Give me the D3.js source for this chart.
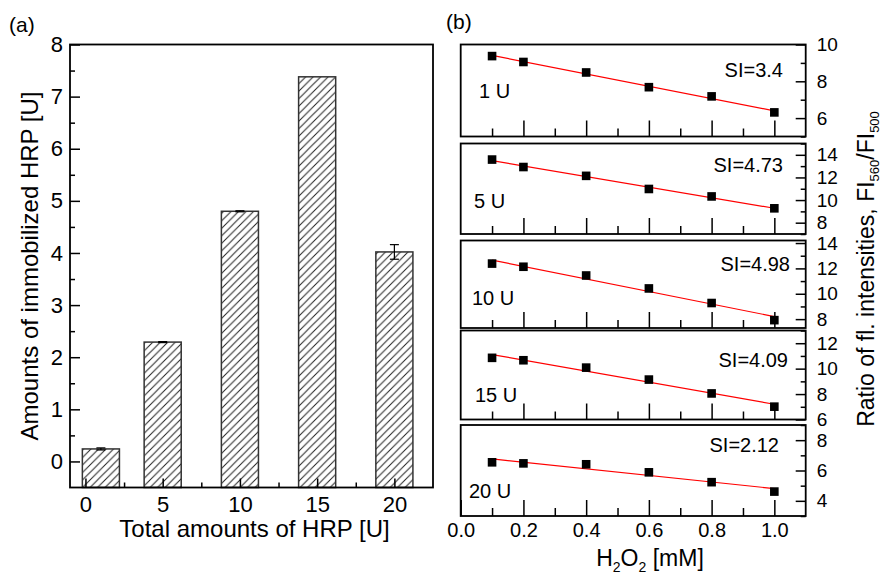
<!DOCTYPE html>
<html>
<head>
<meta charset="utf-8">
<script src="https://cdn.jsdelivr.net/npm/d3@7"></script>
<style>
  body { margin: 0; background: #fff; }
  text { font-family: "Liberation Sans", Arial, sans-serif; fill: #000; }
</style>
</head>
<body>
<div id="vis"></div>
<script>
// ---- data (a): immobilized HRP vs total HRP
const totalUnits = [1, 5, 10, 15, 20];
const immobilized = [0.24, 2.29, 4.80, 7.38, 4.02];
const immobilizedErr = [0.02, 0.01, 0.01, 0, 0.14];
const unitTicks = [0, 5, 10, 15, 20];

// ---- data (b): ratio of fluorescence intensities vs H2O2
const h2o2 = [0.1, 0.2, 0.4, 0.6, 0.8, 1.0];
const h2o2Ticks = [0, 0.2, 0.4, 0.6, 0.8, 1.0];
const panelNames = ["1 U", "5 U", "10 U", "15 U", "20 U"];
const siLabels = ["SI=3.4", "SI=4.73", "SI=4.98", "SI=4.09", "SI=2.12"];
const ratio1 = [9.37, 9.05, 8.48, 7.68, 7.18, 6.31];
const ratio5 = [13.58, 12.92, 12.14, 10.98, 10.32, 9.27];
const ratio10 = [12.38, 12.13, 11.44, 10.42, 9.27, 7.92];
const ratio15 = [10.85, 10.66, 10.08, 9.14, 8.05, 7.01];
const ratio20 = [6.54, 6.47, 6.41, 5.88, 5.23, 4.61];
const ratioDomains = [[5, 10], [7, 15], [7.3, 14.2], [6, 13], [3, 9]];

const W = 883, H = 576;
const svg = d3.select("#vis").append("svg")
    .attr("width", W)
    .attr("height", H);

// hatch fill for the bars
svg.append("defs").append("pattern")
    .attr("id", "hatch")
    .attr("patternUnits", "userSpaceOnUse")
    .attr("width", 7.5)
    .attr("height", 7.5)
    .append("path")
    .attr("d", "M-2,2 l4,-4 M0,7.5 l7.5,-7.5 M5.5,9.5 l4,-4")
    .attr("stroke", "#222")
    .attr("stroke-width", 1);

function styleAxis(g, size) {
    g.select(".domain").remove();
    g.attr("font-size", size);
    g.selectAll(".tick line").attr("stroke", "#000").attr("stroke-width", 1.5);
}

// ================= panel (a) =================
const A = { left: 70, right: 433, top: 44.5, bottom: 487.5 };
const xA = d3.scaleLinear().domain([-1, 22.5]).range([A.left, A.right]);
const yA = d3.scaleLinear().domain([-0.5, 8]).range([A.bottom, A.top]);
const barW = 2.4;

const gA = svg.append("g");

gA.selectAll("rect.bar")
    .data(totalUnits)
    .join("rect")
    .attr("class", "bar")
    .attr("x", d => xA(d - barW / 2))
    .attr("width", d => xA(d + barW / 2) - xA(d - barW / 2))
    .attr("y", (d, i) => yA(immobilized[i]))
    .attr("height", (d, i) => A.bottom - yA(immobilized[i]))
    .attr("fill", "url(#hatch)")
    .attr("stroke", "#333")
    .attr("stroke-width", 1.5);

// error bars
const err = gA.append("g").attr("stroke", "#000").attr("stroke-width", 1.2);
totalUnits.forEach((u, i) => {
    if (!immobilizedErr[i]) return;
    const lo = yA(immobilized[i] - immobilizedErr[i]), hi = yA(immobilized[i] + immobilizedErr[i]);
    err.append("line").attr("x1", xA(u)).attr("x2", xA(u)).attr("y1", lo).attr("y2", hi);
    err.append("line").attr("x1", xA(u) - 4.5).attr("x2", xA(u) + 4.5).attr("y1", lo).attr("y2", lo);
    err.append("line").attr("x1", xA(u) - 4.5).attr("x2", xA(u) + 4.5).attr("y1", hi).attr("y2", hi);
});

// axes (ticks inward)
gA.append("g")
    .attr("transform", `translate(${A.left},0)`)
    .call(d3.axisLeft(yA).tickValues(d3.range(0, 8.5, 1)).tickSize(-10).tickPadding(7).tickFormat(d3.format("d")))
    .call(g => styleAxis(g, 22));
gA.append("g")
    .attr("transform", `translate(${A.left},0)`)
    .call(d3.axisLeft(yA).tickValues(d3.range(0.5, 8, 1)).tickSize(-5).tickFormat(""))
    .call(g => styleAxis(g, 22));
gA.append("g")
    .attr("transform", `translate(0,${A.bottom})`)
    .call(d3.axisBottom(xA).tickValues(unitTicks).tickSize(-9).tickPadding(9).tickFormat(d3.format("d")))
    .call(g => styleAxis(g, 22));
gA.append("g")
    .attr("transform", `translate(0,${A.bottom})`)
    .call(d3.axisBottom(xA).tickValues([2.5, 7.5, 12.5, 17.5]).tickSize(-5).tickFormat(""))
    .call(g => styleAxis(g, 22));

gA.append("rect")
    .attr("x", A.left).attr("y", A.top)
    .attr("width", A.right - A.left).attr("height", A.bottom - A.top)
    .attr("fill", "none").attr("stroke", "#000").attr("stroke-width", 1.8);

gA.append("text")
    .attr("x", (A.left + A.right) / 2 + 3)
    .attr("y", 537)
    .attr("text-anchor", "middle")
    .attr("font-size", 24)
    .text("Total amounts of HRP [U]");

gA.append("text")
    .attr("transform", "translate(37.5,266) rotate(-90)")
    .attr("text-anchor", "middle")
    .attr("font-size", 24)
    .text("Amounts of immobilized HRP [U]");

svg.append("text").attr("x", 9).attr("y", 32).attr("font-size", 21).text("(a)");
svg.append("text").attr("x", 446).attr("y", 29).attr("font-size", 21).text("(b)");

// ================= panel (b) =================
const B = { left: 460.7, right: 805.7 };
const panelTops = [44.5, 143.5, 240.5, 330.5, 425];
const panelBottoms = [136.5, 234, 328, 419.5, 516];
const siPos = [[783, 32.5], [783, 28.5], [790, 30.5], [788, 36.5], [779, 27]];
const namePos = [[479, 53.5], [474, 64.5], [472, 64.5], [475, 71.5], [469, 73]];
const xB = d3.scaleLinear().domain([0, 1.1]).range([B.left, B.right]);
const ratios = [ratio1, ratio5, ratio10, ratio15, ratio20];

function fitLine(xs, ys) {
    const mx = d3.mean(xs), my = d3.mean(ys);
    const sxy = d3.sum(xs, (x, i) => (x - mx) * (ys[i] - my));
    const sxx = d3.sum(xs, x => (x - mx) ** 2);
    const b = sxy / sxx;
    return x => my + b * (x - mx);
}

ratios.forEach((vals, i) => {
    const top = panelTops[i], bottom = panelBottoms[i];
    const dom = ratioDomains[i];
    const y = d3.scaleLinear().domain(dom).range([bottom, top]);
    const g = svg.append("g");

    // bottom ticks
    const last = i === ratios.length - 1;
    g.append("g")
        .attr("transform", `translate(0,${bottom})`)
        .call(d3.axisBottom(xB).tickValues(last ? h2o2Ticks : h2o2Ticks.slice(1)).tickSize(-16).tickPadding(7)
            .tickFormat(last ? d3.format(".1f") : ""))
        .call(a => styleAxis(a, 20));
    g.append("g")
        .attr("transform", `translate(0,${bottom})`)
        .call(d3.axisBottom(xB).tickValues([0.1, 0.3, 0.5, 0.7, 0.9]).tickSize(-8).tickFormat(""))
        .call(a => styleAxis(a, 20));

    // right ticks
    const vals2 = d3.range(Math.ceil(dom[0]), Math.floor(dom[1]) + 1);
    g.append("g")
        .attr("transform", `translate(${B.right},0)`)
        .call(d3.axisRight(y).tickValues(vals2.filter(v => v % 2 === 0)).tickSize(-10).tickPadding(11).tickFormat(d3.format("d")))
        .call(a => styleAxis(a, 19));
    g.append("g")
        .attr("transform", `translate(${B.right},0)`)
        .call(d3.axisRight(y).tickValues(vals2.filter(v => v % 2 !== 0)).tickSize(-5).tickFormat(""))
        .call(a => styleAxis(a, 19));

    // fit line
    const f = fitLine(h2o2, vals);
    g.append("line")
        .attr("x1", xB(h2o2[0])).attr("y1", y(f(h2o2[0])))
        .attr("x2", xB(h2o2[h2o2.length - 1])).attr("y2", y(f(h2o2[h2o2.length - 1])))
        .attr("stroke", "#f00").attr("stroke-width", 1.2);

    // markers
    g.selectAll("rect.pt")
        .data(vals)
        .join("rect")
        .attr("class", "pt")
        .attr("x", (d, j) => xB(h2o2[j]) - 4.3)
        .attr("y", d => y(d) - 4.3)
        .attr("width", 8.6)
        .attr("height", 8.6)
        .attr("fill", "#000");

    g.append("rect")
        .attr("x", B.left).attr("y", top)
        .attr("width", B.right - B.left).attr("height", bottom - top)
        .attr("fill", "none").attr("stroke", "#000").attr("stroke-width", 1.8);

    g.append("text")
        .attr("x", siPos[i][0]).attr("y", top + siPos[i][1])
        .attr("text-anchor", "end")
        .attr("font-size", 20)
        .text(siLabels[i]);
    g.append("text")
        .attr("x", namePos[i][0]).attr("y", top + namePos[i][1])
        .attr("font-size", 20)
        .text(panelNames[i]);
});

// x title (b)
const xt = svg.append("text")
    .attr("x", 650).attr("y", 566)
    .attr("text-anchor", "middle")
    .attr("font-size", 23);
xt.append("tspan").text("H");
xt.append("tspan").attr("dy", 6).attr("font-size", 14).text("2");
xt.append("tspan").attr("dy", -6).text("O");
xt.append("tspan").attr("dy", 6).attr("font-size", 14).text("2");
xt.append("tspan").attr("dy", -6).text(" [mM]");

// y title (b), right side
const yt = svg.append("text")
    .attr("transform", "translate(874,269) rotate(-90)")
    .attr("text-anchor", "middle")
    .attr("font-size", 23);
yt.append("tspan").text("Ratio of fl. intensities, FI");
yt.append("tspan").attr("dy", 5).attr("font-size", 13).text("560");
yt.append("tspan").attr("dy", -5).text("/FI");
yt.append("tspan").attr("dy", 5).attr("font-size", 13).text("500");
</script>
</body>
</html>
